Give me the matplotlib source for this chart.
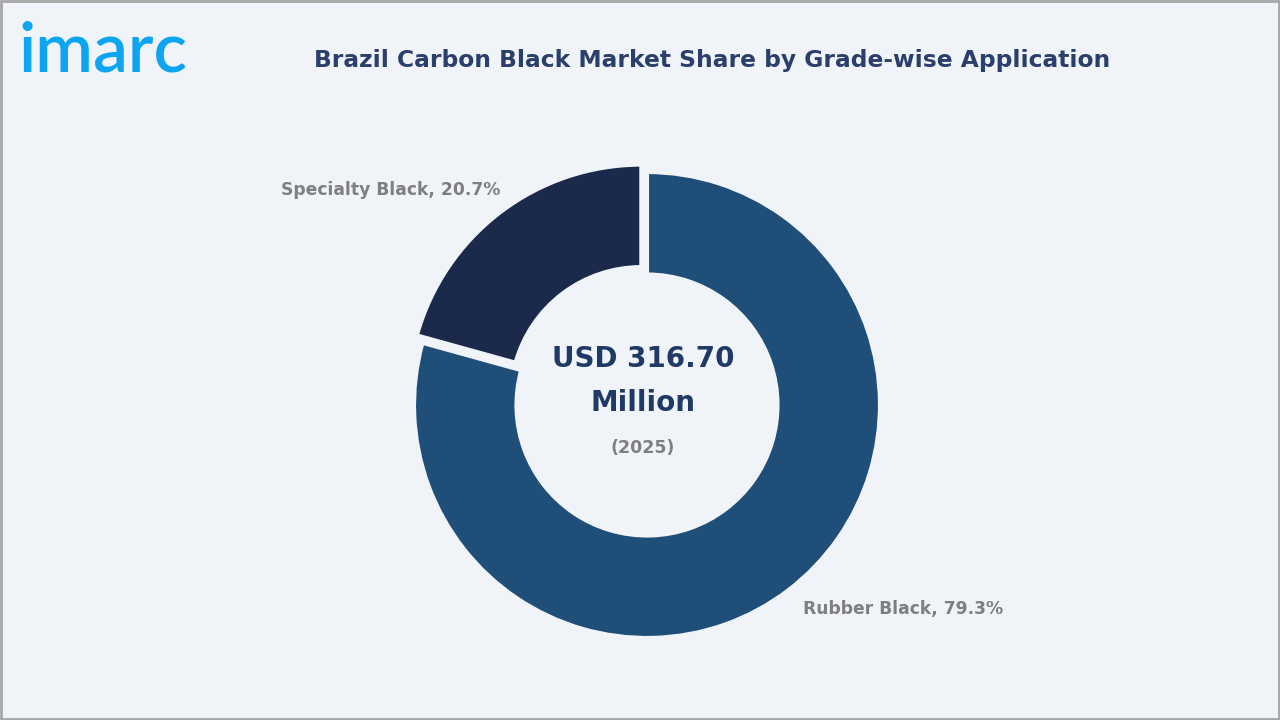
import matplotlib.pyplot as plt

labels = ["Rubber Black", "Specialty Black"]
shares = [79.3, 20.7]
colors = ["#1f4e79", "#1b2a4a"]
total_text = "USD 316.70\nMillion"
year_text = "(2025)"

fig = plt.figure(figsize=(12.8, 7.2), dpi=100)
fig.patch.set_facecolor("#f0f4f9")
fig.patches.append(plt.Rectangle((0.001, 0.001), 0.998, 0.997, transform=fig.transFigure,
                                 fill=False, edgecolor="#a6a6a6", lw=2))

# donut axes: center (647,405), radius 233 px
r_px = 233
ax = fig.add_axes([(647 - r_px) / 1280, (720 - 405 - r_px) / 720, 2 * r_px / 1280, 2 * r_px / 720])
ax.set_facecolor("none")
ax.pie(shares, colors=colors, startangle=90, counterclock=False,
       explode=[0, 0.04], radius=1.0,
       wedgeprops=dict(width=0.44, edgecolor="#f0f4f9", linewidth=3))
ax.set_xlim(-1, 1)
ax.set_ylim(-1, 1)
ax.set_aspect("equal")
ax.axis("off")

fig.text(643 / 1280, 1 - 381 / 720, total_text, ha="center", va="center", fontsize=20,
         fontweight="bold", color="#1f3a66", linespacing=1.75)
fig.text(643 / 1280, 1 - 448 / 720, year_text, ha="center", va="center", fontsize=12.5,
         fontweight="bold", color="#7f7f7f")

fig.text(500 / 1280, 1 - 190 / 720, f"{labels[1]}, {shares[1]}%", ha="right", va="center",
         fontsize=12.3, fontweight="bold", color="#7f7f7f")
fig.text(803 / 1280, 1 - 609 / 720, f"{labels[0]}, {shares[0]}%", ha="left", va="center",
         fontsize=12.3, fontweight="bold", color="#7f7f7f")

fig.text(712 / 1280, 1 - 60 / 720, "Brazil Carbon Black Market Share by Grade-wise Application",
         ha="center", va="center", fontsize=16.8, fontweight="bold", color="#2a3f6b")
fig.text(18 / 1280, 1 - 52 / 720, "imarc", ha="left", va="center", fontsize=50,
         fontweight="semibold", color="#0ea5f0", family="Lato")

fig.savefig("out.png", dpi=100, facecolor=fig.get_facecolor())
